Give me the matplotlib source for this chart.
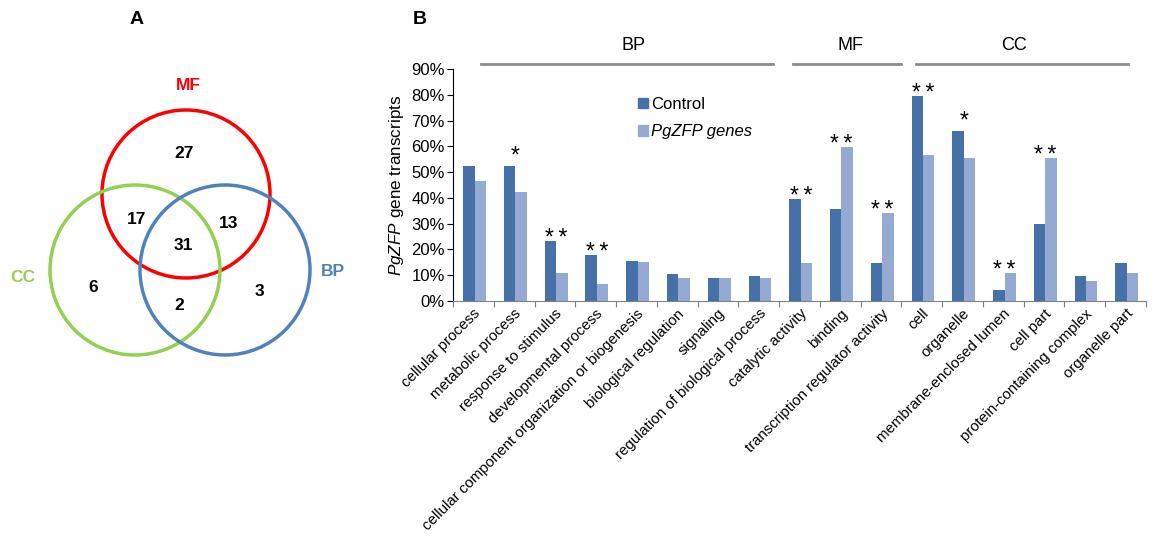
import matplotlib
matplotlib.use("Agg")
import matplotlib.pyplot as plt
from matplotlib.patches import Circle, Patch
from matplotlib.lines import Line2D
import numpy as np

plt.rcParams['font.family'] = ['Liberation Sans', 'DejaVu Sans']
plt.rcParams['mathtext.fontset'] = 'custom'
plt.rcParams['mathtext.rm'] = 'Liberation Sans'
plt.rcParams['mathtext.it'] = 'Liberation Sans:italic'

# ---------------- data ----------------
categories = ["cellular process", "metabolic process", "response to stimulus",
              "developmental process", "cellular component organization or biogenesis",
              "biological regulation", "signaling", "regulation of biological process",
              "catalytic activity", "binding", "transcription regulator activity",
              "cell", "organelle", "membrane-enclosed lumen", "cell part",
              "protein-containing complex", "organelle part"]
control = [52.3, 52.2, 23.3, 17.9, 15.5, 10.6, 8.8, 9.7,
           39.4, 35.6, 14.8,
           79.4, 65.8, 4.4, 29.8, 9.7, 14.8]
pgzfp = [46.4, 42.2, 10.9, 6.7, 15.0, 8.8, 8.8, 8.8,
         14.9, 59.6, 34.2,
         56.5, 55.4, 10.9, 55.4, 7.8, 10.9]
signif = ["", "*", "**", "**", "", "", "", "",
          "**", "**", "**",
          "**", "*", "**", "**", "", ""]
groups = ["BP", "MF", "CC"]
yticks = [0, 10, 20, 30, 40, 50, 60, 70, 80, 90]

venn_sets = ["MF", "CC", "BP"]
venn_counts = {"MF": 27, "MF&CC": 17, "MF&BP": 13, "ALL": 31,
               "CC": 6, "CC&BP": 2, "BP": 3}

c_control = "#4571a8"
c_pg = "#95aad3"

fig = plt.figure(figsize=(11.55, 5.42), dpi=100)

# ---------------- Venn (panel A) ----------------
axv = fig.add_axes([0, 0, 380 / 1155, 1])
axv.set_xlim(0, 380)
axv.set_ylim(542, 0)
axv.set_aspect('equal')
axv.axis('off')
circ = {"MF": ((186, 194), 84, "#ff0000"),
        "CC": ((135, 270), 85, "#92d050"),
        "BP": ((225, 270), 85, "#4f81bd")}
for name in venn_sets:
    (cx, cy), r, col = circ[name]
    axv.add_patch(Circle((cx, cy), r, fill=False, ec=col, lw=2.5))
lab_pos = {"MF": (188, 86), "CC": (23, 278), "BP": (333, 272)}
for name in venn_sets:
    axv.text(*lab_pos[name], name, color=circ[name][2], fontsize=12.5,
             fontweight='bold', ha='center', va='center')
num_pos = {"MF": (184, 154), "MF&CC": (137, 219), "MF&BP": (229, 223),
           "ALL": (183, 246), "CC": (93, 288), "CC&BP": (179, 305), "BP": (259, 291)}
for k, v in venn_counts.items():
    axv.text(*num_pos[k], str(v), fontsize=12.5, fontweight='bold',
             ha='center', va='center')
axv.text(137, 20, "A", fontsize=14, fontweight='bold', ha='center', va='center')

# ---------------- Bar chart (panel B) ----------------
ax = fig.add_axes([453 / 1155, 1 - 301 / 542, 693 / 1155, 232 / 542])
n = len(categories)
x = np.arange(n)
w = 0.28
ax.bar(x - w / 2 + 0.03, control, w, color=c_control, label="Control")
ax.bar(x + w / 2 + 0.03, pgzfp, w, color=c_pg, label="PgZFP genes")
ax.set_xlim(-0.5, n - 0.5)
ax.set_ylim(0, 90)
ax.set_yticks(yticks)
ax.set_yticklabels([f"{t}%" for t in yticks], fontsize=12)
ax.set_xticks(np.arange(-0.5, n, 1.0))
ax.set_xticklabels([])
ax.set_xticks(x, minor=True)
ax.set_xticklabels(categories, minor=True, rotation=45, ha='right', va='top',
                   rotation_mode='anchor', fontsize=10.8)
ax.tick_params(axis='x', which='minor', length=0, pad=4)
ax.tick_params(axis='x', which='major', length=4, direction='out', color='#7f7f7f')
ax.tick_params(axis='y', length=4, direction='out', pad=2)
for s in ['top', 'right']:
    ax.spines[s].set_visible(False)
ax.spines['bottom'].set_color('#7f7f7f')
ax.spines['left'].set_color('black')
ax.set_ylabel(r'$\it{PgZFP}$ gene transcripts', fontsize=12.3, labelpad=4)

for i, s in enumerate(signif):
    if s:
        top = max(control[i], pgzfp[i])
        off = -1.5 if len(s) == 2 else 1.5
        ax.text(x[i] + 0.03, top + off, "\u2009".join(s), ha='center', va='baseline',
                fontsize=16.5)

leg = ax.legend(handles=[Patch(color=c_control, label="Control"),
                         Patch(color=c_pg, label="PgZFP genes")],
                loc='upper left', bbox_to_anchor=(0.245, 0.945), frameon=False,
                handlelength=0.6, handleheight=0.6, handletextpad=0.2,
                labelspacing=0.75, fontsize=12)
leg.get_texts()[1].set_style('italic')

# group brackets
tr = ax.get_xaxis_transform()
bars_lines = {"BP": (0.19, 7.34, 3.94), "MF": (7.83, 10.48, 9.25), "CC": (10.87, 16.07, 13.25)}
for g in groups:
    x0, x1, xl = bars_lines[g]
    ax.add_line(Line2D([x0, x1], [1.022, 1.022], transform=tr, color='#8c8c8c',
                       lw=2, clip_on=False))
    ax.text(xl, 1.103, g, transform=tr, ha='center', va='center', fontsize=13)

fig.text(420 / 1155, 1 - 20 / 542, "B", fontsize=14, fontweight='bold',
         ha='center', va='center')

fig.savefig("out.png", dpi=100)
